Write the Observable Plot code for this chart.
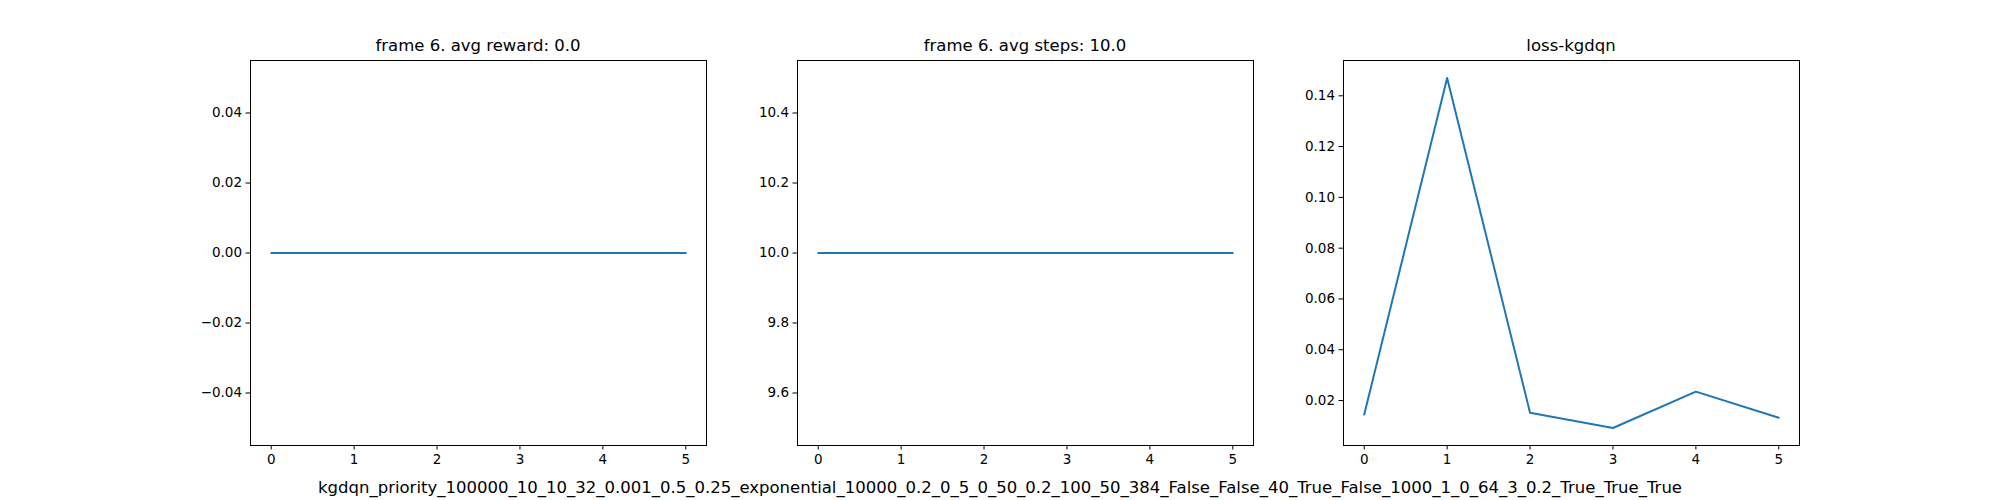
<!DOCTYPE html>
<html>
<head>
<meta charset="utf-8">
<script src="https://cdn.jsdelivr.net/npm/d3@7"></script>
<script src="https://cdn.jsdelivr.net/npm/@observablehq/plot@0.6"></script>
<style>
  body { margin: 0; background: #fff; font-family: "DejaVu Sans", sans-serif; }
  #fig { position: relative; width: 2000px; height: 500px; }
  .panel { position: absolute; }
  .title { position: absolute; font-size: 16.5px; text-align: center; color: #000; }
  #sup { position: absolute; left: 0; width: 2000px; top: 478px; text-align: center; font-size: 16.5px; }
</style>
</head>
<body>
<div id="fig"></div>
<script>
const frames = [0, 1, 2, 3, 4, 5];
const reward = [0, 0, 0, 0, 0, 0];
const steps = [10, 10, 10, 10, 10, 10];
const loss = [0.0145, 0.147, 0.0152, 0.0092, 0.0235, 0.0132];

const titles = ["frame 6. avg reward: 0.0", "frame 6. avg steps: 10.0", "loss-kgdqn"];
const suptitle = "kgdqn_priority_100000_10_10_32_0.001_0.5_0.25_exponential_10000_0.2_0_5_0_50_0.2_100_50_384_False_False_40_True_False_1000_1_0_64_3_0.2_True_True_True";

const panels = [
  {left: 250, values: reward, domain: [-0.055, 0.055], ticks: [-0.04, -0.02, 0, 0.02, 0.04], fmt: d => d3.format(".2f")(d).replace("-", "\u2212")},
  {left: 797, values: steps, domain: [9.45, 10.55], ticks: [9.6, 9.8, 10.0, 10.2, 10.4], fmt: d3.format(".1f")},
  {left: 1343, values: loss, domain: [0.0023, 0.1539], ticks: [0.02, 0.04, 0.06, 0.08, 0.10, 0.12, 0.14], fmt: d3.format(".2f")}
];

const fig = document.getElementById("fig");
const mL = 70, mR = 10, mT = 0, mB = 40;
const pw = 456, ph = 385, top0 = 60;

panels.forEach((p, i) => {
  const data = frames.map((f, j) => ({x: f, y: p.values[j]}));
  const chart = Plot.plot({
    width: pw + mL + mR,
    height: ph + mT + mB,
    marginLeft: mL, marginRight: mR, marginTop: mT, marginBottom: mB,
    style: {fontFamily: "DejaVu Sans", fontSize: "13.5px", color: "#000", background: "transparent"},
    x: {domain: [-0.25, 5.25]},
    y: {domain: p.domain},
    marks: [
      Plot.axisX({ticks: frames, tickFormat: d3.format("d"), tickSize: 4.5, tickPadding: 4, label: null}),
      Plot.axisY({ticks: p.ticks, tickFormat: p.fmt, tickSize: 4.5, tickPadding: 4, label: null}),
      Plot.line(data, {x: "x", y: "y", stroke: "#1f77b4", strokeWidth: 2}),
      Plot.frame({stroke: "#000", strokeWidth: 1})
    ]
  });
  const div = document.createElement("div");
  div.className = "panel";
  div.style.left = (p.left - mL) + "px";
  div.style.top = (top0 - mT) + "px";
  div.appendChild(chart);
  fig.appendChild(div);

  const t = document.createElement("div");
  t.className = "title";
  t.style.left = p.left + "px";
  t.style.width = pw + "px";
  t.style.top = "36px";
  t.textContent = titles[i];
  fig.appendChild(t);
});

const s = document.createElement("div");
s.id = "sup";
s.textContent = suptitle;
fig.appendChild(s);
</script>
</body>
</html>
